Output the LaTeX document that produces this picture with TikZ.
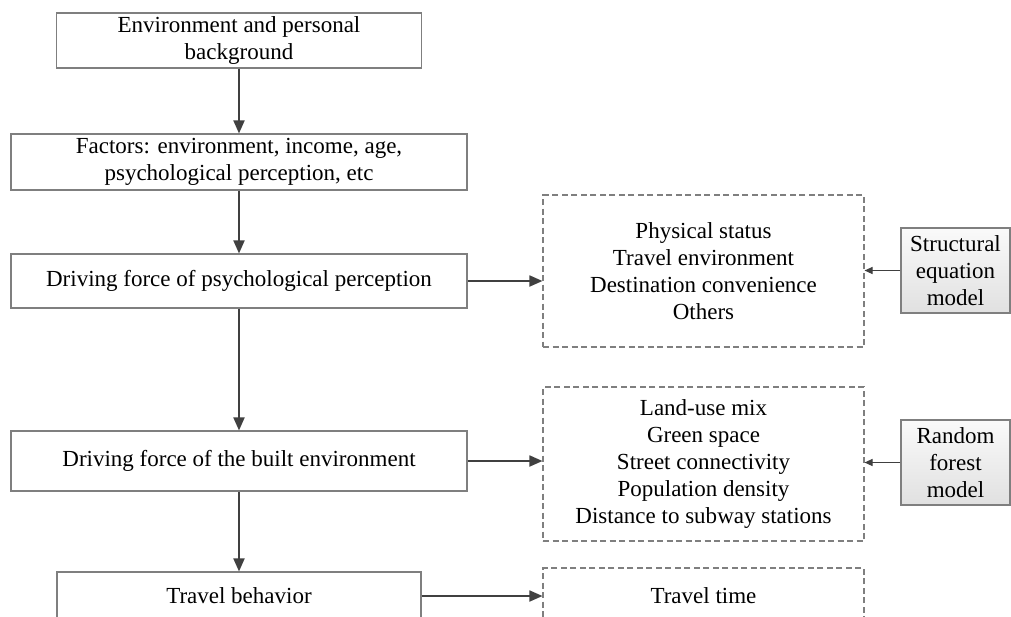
\documentclass[tikz,border=0pt]{standalone}
\usepackage{fontspec}
\setmainfont{Liberation Serif}
\usetikzlibrary{arrows.meta}
\definecolor{boxgray}{HTML}{7F7F7F}
\definecolor{arrgray}{HTML}{404040}
\begin{document}
\begin{tikzpicture}[x=1pt,y=-1pt,
  every node/.style={font=\fontsize{23}{27}\selectfont, align=center, inner sep=0pt, text=black},
  solidbox/.style={draw=boxgray, line width=1.1pt, rectangle},
  dashbox/.style={draw=boxgray, line width=1.1pt, rectangle, dash pattern=on 6pt off 3.5pt},
  graybox/.style={draw=boxgray, line width=1.1pt, rectangle, top color=gray!4, bottom color=gray!24},
  arr/.style={draw=arrgray, line width=1.8pt, -{Triangle[length=13pt,width=11pt]}},
  smallarr/.style={draw=arrgray, line width=1.1pt, -{Triangle[length=8pt,width=7pt]}}]
\useasboundingbox (0,0) rectangle (1011,616);
\clip (0,0) rectangle (1011,616);
\fill[white] (0,0) rectangle (1011,616);

% left column
\node[solidbox, minimum width=365pt, minimum height=55pt] (b1) at (239,40.5) {Environment and personal\\background};
\node[solidbox, minimum width=456pt, minimum height=56pt] (b2) at (239,162) {Factors: environment, income, age,\\psychological perception, etc};
\node[solidbox, minimum width=456pt, minimum height=54pt] (b3) at (239,281) {Driving force of psychological perception};
\node[solidbox, minimum width=456pt, minimum height=60pt] (b4) at (239,461) {Driving force of the built environment};
\node[solidbox, minimum width=364pt, minimum height=48pt] (b5) at (239,596) {Travel behavior};

% dashed boxes
\node[dashbox, minimum width=321pt, minimum height=152pt] (d1) at (703.5,271) {Physical status\\Travel environment\\Destination convenience\\Others};
\node[dashbox, minimum width=321pt, minimum height=154pt] (d2) at (703.5,464) {Land-use mix\\Green space\\Street connectivity\\Population density\\Distance to subway stations};
\node[dashbox, minimum width=321pt, minimum height=56pt, text depth=0pt] (d3) at (703.5,596) {Travel time};

% gray model boxes
\node[graybox, minimum width=109pt, minimum height=85pt] (g1) at (955.5,270.5) {Structural\\equation\\model};
\node[graybox, minimum width=109pt, minimum height=85pt] (g2) at (955.5,462.5) {Random\\forest\\model};

% vertical arrows
\draw[arr] (b1.south) -- (b2.north);
\draw[arr] (b2.south) -- (b3.north);
\draw[arr] (b3.south) -- (b4.north);
\draw[arr] (b4.south) -- (b5.north);

% horizontal arrows
\draw[arr] (b3.east) -- (b3.east -| d1.west);
\draw[arr] (b4.east) -- (b4.east -| d2.west);
\draw[arr] (b5.east) -- (b5.east -| d3.west);

% model arrows
\draw[smallarr] (g1.west) -- (g1.west -| d1.east);
\draw[smallarr] (g2.west) -- (g2.west -| d2.east);
\end{tikzpicture}
\end{document}
